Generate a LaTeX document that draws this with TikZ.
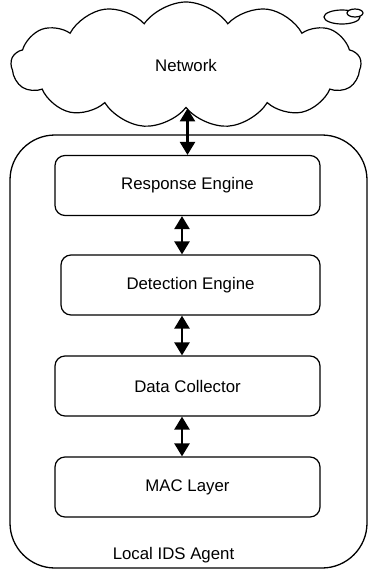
\documentclass[tikz,border=0pt]{standalone}
\usepackage{fontspec}
\setmainfont{Liberation Sans}
\usetikzlibrary{shapes.symbols,arrows.meta,positioning}

\begin{document}
\begin{tikzpicture}[x=1pt,y=1pt,font=\fontsize{16.8}{20}\selectfont,
  layer/.style={draw,line width=1.2pt,rounded corners=10pt,minimum width=265pt,minimum height=60pt,inner sep=0pt},
  link/.style={{Triangle[width=15pt,length=13pt]}-{Triangle[width=15pt,length=13pt]},line width=2.4pt}]
\useasboundingbox (0,0) rectangle (368,-571);
% network cloud with the two little bubbles on top
\node[cloud,draw,line width=1.2pt,cloud puffs=13,cloud puff arc=110,minimum width=350pt,minimum height=126pt,inner sep=0pt] (net) at (186,-65) {Network};
\draw[line width=1.2pt,fill=white] (342,-17) ellipse [x radius=18,y radius=7];
\draw[line width=1.2pt,fill=white] (355,-13) ellipse [x radius=8,y radius=4];
% agent and its layers
\node[draw,line width=1.3pt,rounded corners=45pt,minimum width=357pt,minimum height=433pt] (agent) at (188.5,-351.5) {};
\node (agentname) at (173.5,-555) {Local IDS Agent};
\node[layer] (resp) at (187.5,-185.5) {Response Engine};
\node[layer,minimum width=259pt] (det) at (190.5,-285) {Detection Engine};
\node[layer] (coll) at (187.5,-386) {Data Collector};
\node[layer] (mac) at (187.5,-487) {MAC Layer};
\coordinate (spine) at (182,0);
\draw[link] (resp.north |- net.south) -- (resp.north);
\draw[link] (resp.south -| spine) -- (det.north -| spine);
\draw[link] (det.south -| spine) -- (coll.north -| spine);
\draw[link] (coll.south -| spine) -- (mac.north -| spine);
\end{tikzpicture}
\end{document}
